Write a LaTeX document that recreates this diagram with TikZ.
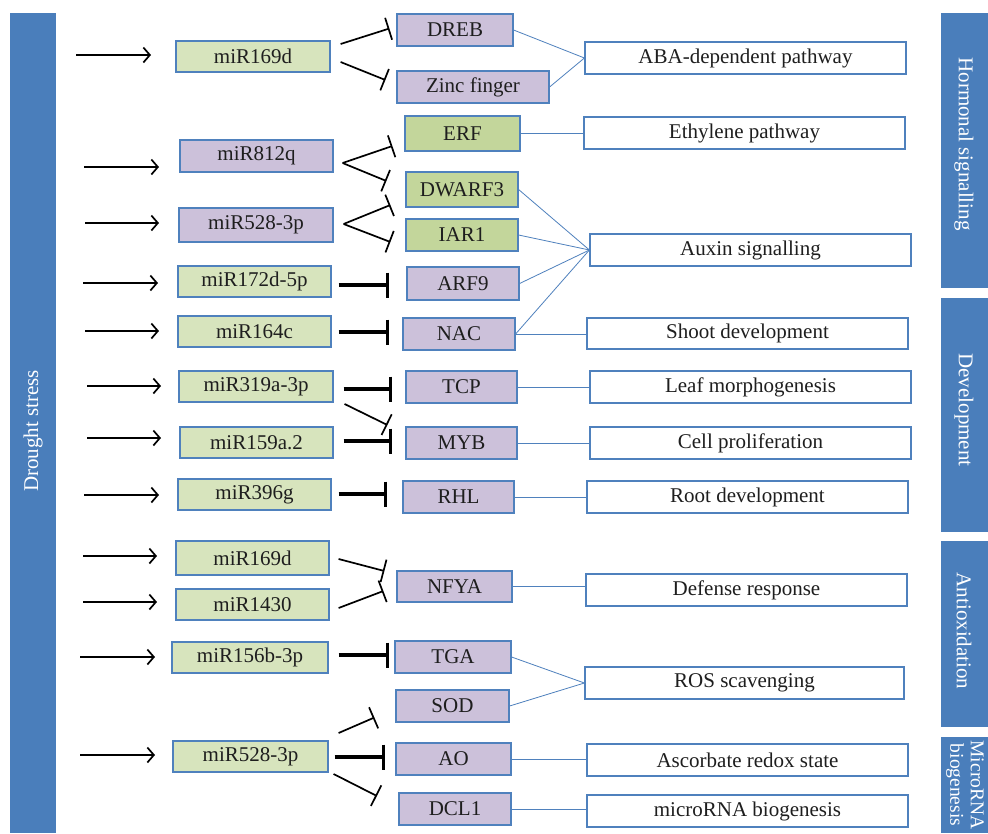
\documentclass[tikz,border=0pt]{standalone}
\usepackage{fontspec}
\setmainfont{Liberation Serif}
\usetikzlibrary{arrows.meta}
\definecolor{barblue}{RGB}{74,126,187}
\definecolor{edgeblue}{RGB}{79,129,189}
\definecolor{mirgreen}{RGB}{215,228,189}
\definecolor{tgtgreen}{RGB}{195,214,155}
\definecolor{tgtpurple}{RGB}{204,193,218}
\definecolor{txt}{RGB}{30,30,30}
\newcommand\mybox[7]{\node[#6,minimum width={(#4-#2)*1pt},minimum height={(#5-#3)*1pt}] (#1) at ({(#2+#4)/2},{(#3+#5)/2}) {#7};}
\begin{document}
\begin{tikzpicture}[x=1pt,y=-1pt,
  boxbase/.style={draw=edgeblue,line width=1.2pt,inner sep=0pt,text=txt,font=\fontsize{21}{23}\selectfont},
  mirbox/.style={boxbase,fill=mirgreen},
  mirpbox/.style={boxbase,fill=tgtpurple},
  greenbox/.style={boxbase,fill=tgtgreen},
  purplebox/.style={boxbase,fill=tgtpurple},
  pathbox/.style={boxbase,fill=white},
  band/.style={fill=barblue,inner sep=0pt},
  bandtext/.style={text=white,inner sep=0pt,font=\fontsize{21}{23}\selectfont,align=center},
  stim/.style={line width=1.7pt,-{Straight Barb[length=6.5pt,width=15pt,line width=1.7pt]}},
  inhD/.style={line width=1.7pt,-{Bar[width=23pt,line width=1.7pt]}},
  inhH/.style={line width=3.3pt,-{Bar[width=25pt,line width=3.3pt]}},
  link/.style={draw=edgeblue,line width=0.8pt}]
\useasboundingbox (0,0) rectangle (988,833);
\fill[white] (0,0) rectangle (988,833);

% side bands
\node[band,minimum width=46pt,minimum height=820pt] (ds) at (33,423) {};
\node[bandtext,rotate=90] (dst) at (33,431) {Drought stress};
\node[band,minimum width=47pt,minimum height=275pt] (hs) at (964.5,150.5) {};
\node[bandtext,rotate=-90] (hst) at (964,144) {Hormonal signalling};
\node[band,minimum width=47pt,minimum height=234pt] (dv) at (964.5,415) {};
\node[bandtext,rotate=-90] (dvt) at (964,410) {Development};
\node[band,minimum width=47pt,minimum height=186pt] (ax) at (964.5,634) {};
\node[bandtext,rotate=-90] (axt) at (964,631) {Antioxidation};
\node[band,minimum width=47pt,minimum height=96pt] (mb) at (964.5,785) {};
\node[bandtext,rotate=-90,font=\fontsize{19.5}{20.5}\selectfont] (mbt) at (965,785) {MicroRNA\\biogenesis};

% miRNA boxes
\mybox{m1}{176}{41}{330}{72}{mirbox}{miR169d}
\mybox{m2}{180}{140}{333}{172}{mirpbox}{miR812q}
\mybox{m3}{179}{208}{333}{242}{mirpbox}{miR528-3p}
\mybox{m4}{178}{266}{331}{297}{mirbox}{miR172d-5p}
\mybox{m5}{178}{316}{331}{347}{mirbox}{miR164c}
\mybox{m6}{179}{371}{333}{402}{mirbox}{miR319a-3p}
\mybox{m7}{180}{427}{333}{458}{mirbox}{miR159a.2}
\mybox{m8}{178}{479}{331}{510}{mirbox}{miR396g}
\mybox{m9}{176}{541}{329}{575}{mirbox}{miR169d}
\mybox{m10}{176}{589}{329}{620}{mirbox}{miR1430}
\mybox{m11}{172}{642}{328}{673}{mirbox}{miR156b-3p}
\mybox{m12}{173}{741}{328}{772}{mirbox}{miR528-3p}

% target boxes
\mybox{t1}{397}{14}{513}{46}{purplebox}{DREB}
\mybox{t2}{397}{71}{549}{103}{purplebox}{Zinc finger}
\mybox{t3}{405}{116}{520}{151}{greenbox}{ERF}
\mybox{t4}{406}{172}{518}{207}{greenbox}{DWARF3}
\mybox{t5}{406}{219}{518}{251}{greenbox}{IAR1}
\mybox{t6}{407}{267}{519}{300}{purplebox}{ARF9}
\mybox{t7}{403}{318}{515}{350}{purplebox}{NAC}
\mybox{t8}{406}{371}{517}{403}{purplebox}{TCP}
\mybox{t9}{406}{427}{517}{459}{purplebox}{MYB}
\mybox{t10}{403}{481}{514}{513}{purplebox}{RHL}
\mybox{t11}{397}{571}{512}{602}{purplebox}{NFYA}
\mybox{t12}{395}{641}{511}{673}{purplebox}{TGA}
\mybox{t13}{396}{690}{509}{722}{purplebox}{SOD}
\mybox{t14}{396}{743}{511}{775}{purplebox}{AO}
\mybox{t15}{399}{793}{511}{825}{purplebox}{DCL1}

% pathway boxes
\mybox{p1}{585}{42}{906}{74}{pathbox}{ABA-dependent pathway}
\mybox{p2}{584}{117}{905}{149}{pathbox}{Ethylene pathway}
\mybox{p3}{590}{234}{911}{266}{pathbox}{Auxin signalling}
\mybox{p4}{587}{318}{908}{349}{pathbox}{Shoot development}
\mybox{p5}{590}{371}{911}{403}{pathbox}{Leaf morphogenesis}
\mybox{p6}{590}{427}{911}{459}{pathbox}{Cell proliferation}
\mybox{p7}{587}{481}{908}{513}{pathbox}{Root development}
\mybox{p8}{586}{574}{907}{606}{pathbox}{Defense response}
\mybox{p9}{585}{667}{904}{699}{pathbox}{ROS scavenging}
\mybox{p10}{587}{744}{908}{776}{pathbox}{Ascorbate redox state}
\mybox{p11}{587}{795}{908}{827}{pathbox}{microRNA biogenesis}

% drought stress arrows
\coordinate (s1) at (76,55);   \coordinate (e1) at (151,55);
\coordinate (s2) at (84,167);  \coordinate (e2) at (159,167);
\coordinate (s3) at (85,223);  \coordinate (e3) at (159,223);
\coordinate (s4) at (83,283);  \coordinate (e4) at (158,283);
\coordinate (s5) at (85,331);  \coordinate (e5) at (159,331);
\coordinate (s6) at (87,386);  \coordinate (e6) at (161,386);
\coordinate (s7) at (87,438);  \coordinate (e7) at (161,438);
\coordinate (s8) at (84,495);  \coordinate (e8) at (159,495);
\coordinate (s9) at (83,556);  \coordinate (e9) at (157,556);
\coordinate (s10) at (83,602); \coordinate (e10) at (157,602);
\coordinate (s11) at (80,657); \coordinate (e11) at (155,657);
\coordinate (s12) at (80,755); \coordinate (e12) at (155,755);
\foreach \i in {1,...,12} {\draw[stim] (s\i) -- (e\i);}

% inhibitions
\draw[inhD] ([shift={(10,-12.5)}]m1.east) -- ([shift={(-7,-1.5)}]t1.west);
\draw[inhD] ([shift={(10,5.5)}]m1.east) -- ([shift={(-11,-7)}]t2.west);
\draw[inhD] ([shift={(9,7)}]m2.east) -- ([shift={(-12,12.5)}]t3.west);
\draw[inhD] ([shift={(9,7)}]m2.east) -- ([shift={(-19,-8.5)}]t4.west);
\draw[inhD] ([shift={(10,-1)}]m3.east) -- ([shift={(-15,15.5)}]t4.west);
\draw[inhD] ([shift={(10,-1)}]m3.east) -- ([shift={(-15,7)}]t5.west);
\draw[inhH] ([shift={(7,3.5)}]m4.east) -- ([shift={(-17,1.5)}]t6.west);
\draw[inhH] ([shift={(7,0.5)}]m5.east) -- ([shift={(-13,-2)}]t7.west);
\draw[inhH] ([shift={(10,2.5)}]m6.east) -- ([shift={(-13,2)}]t8.west);
\draw[inhD] ([shift={(11,17.5)}]m6.east) -- ([shift={(-18,-18)}]t9.west);
\draw[inhH] ([shift={(10,-1.5)}]m7.east) -- ([shift={(-13,-2)}]t9.west);
\draw[inhH] ([shift={(7,-0.5)}]m8.east) -- ([shift={(-15,-3)}]t10.west);
\draw[inhD] ([shift={(9,1)}]m9.east) -- ([shift={(-12,-15.5)}]t11.west);
\draw[inhD] ([shift={(9,3.5)}]m10.east) -- ([shift={(-13,4.5)}]t11.west);
\draw[inhH] ([shift={(10,-2.5)}]m11.east) -- ([shift={(-5,-2)}]t12.west);
\draw[inhD] ([shift={(10,-23.5)}]m12.east) -- ([shift={(-21,11.5)}]t13.west);
\draw[inhH] ([shift={(6,0.5)}]m12.east) -- ([shift={(-10,-2)}]t14.west);
\draw[inhD] ([shift={(5,17.5)}]m12.east) -- ([shift={(-21.5,-13)}]t15.west);

% pathway links
\draw[link] (t1.east) -- (p1.west);
\draw[link] (t2.east) -- (p1.west);
\draw[link] (t3.east) -- (t3.east -| p2.west);
\draw[link] (t4.east) -- (p3.west);
\draw[link] (t5.east) -- (p3.west);
\draw[link] (t6.east) -- (p3.west);
\draw[link] (t7.east) -- (p3.west);
\draw[link] (t7.east) -- (t7.east -| p4.west);
\draw[link] (t8.east) -- (t8.east -| p5.west);
\draw[link] (t9.east) -- (t9.east -| p6.west);
\draw[link] (t10.east) -- (t10.east -| p7.west);
\draw[link] (t11.east) -- (t11.east -| p8.west);
\draw[link] (t12.east) -- (p9.west);
\draw[link] (t13.east) -- (p9.west);
\draw[link] (t14.east) -- (t14.east -| p10.west);
\draw[link] (t15.east) -- (t15.east -| p11.west);
\end{tikzpicture}
\end{document}
